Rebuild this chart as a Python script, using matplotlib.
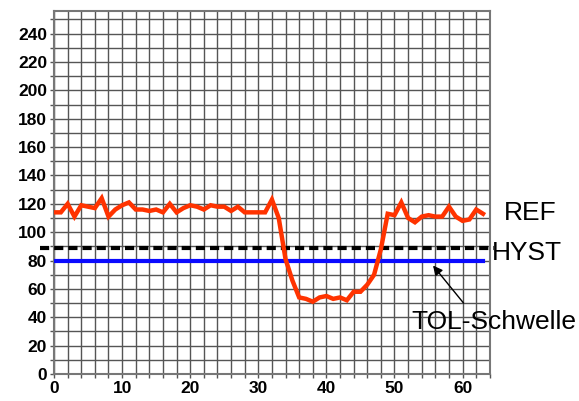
import numpy as np
import matplotlib
matplotlib.use("Agg")
import matplotlib.pyplot as plt

plt.rcParams['font.family'] = ['Liberation Sans', 'DejaVu Sans']

# measured signal, one value per sample
samples = list(range(64))
ref_values = [114, 114, 120, 111, 119, 118, 117, 124, 111, 116,
              119, 121, 116, 116, 115, 116, 114, 120, 114, 117,
              119, 118, 116, 119, 118, 118, 115, 118, 114, 114,
              114, 114, 123, 110, 81, 66, 54, 53, 51, 54,
              55, 53, 54, 52, 58, 58, 63, 70, 88, 113,
              112, 121, 110, 107, 111, 112, 111, 111, 118, 111,
              108, 109, 116, 113]
hyst_level = 89
tol_level = 80

x_ticks = [0, 10, 20, 30, 40, 50, 60]
y_ticks = [0, 20, 40, 60, 80, 100, 120, 140, 160, 180, 200, 220, 240]

fig = plt.figure(figsize=(5.79, 4.01), dpi=100)
ax = fig.add_axes([0.0933, 0.0673, 0.7527, 0.9053])

ax.set_xlim(0, 64)
ax.set_ylim(0, 256)
ax.set_xticks(x_ticks)
ax.set_yticks(y_ticks)
ax.set_xticks(np.arange(0, 65, 2), minor=True)
ax.set_yticks(np.arange(0, 256, 10), minor=True)
ax.grid(which='both', color='#555555', linewidth=1.0)
ax.set_axisbelow(True)
ax.tick_params(which='both', direction='out', length=3, color='#555555', width=1)
ax.tick_params(which='major', labelsize=12.5, pad=2)
for lbl in ax.get_xticklabels() + ax.get_yticklabels():
    lbl.set_fontweight('bold')
for s in ax.spines.values():
    s.set_color('#777777')
    s.set_linewidth(1.5)

ax.plot([-2, 64.6], [hyst_level, hyst_level], color='black', lw=3,
        linestyle=(0, (2.2, 1.2)), clip_on=False, zorder=3)
ax.plot([0, 63], [tol_level, tol_level], color='#0a0aff', lw=3, zorder=4)
ax.plot(samples, ref_values, color='#ff3300', lw=3.2, zorder=5,
        solid_joinstyle='miter')

ax.annotate('', xy=(55.4, 78), xytext=(60.4, 48.5),
            arrowprops=dict(arrowstyle='-|>', color='black', lw=1,
                            mutation_scale=14))

ax.text(0.87, 0.468, 'REF', transform=fig.transFigure, fontsize=19,
        va='center', ha='left')
ax.text(0.849, 0.37, 'HYST', transform=fig.transFigure, fontsize=19,
        va='center', ha='left')
ax.text(0.711, 0.197, 'TOL-Schwelle', transform=fig.transFigure,
        fontsize=19, va='center', ha='left')

fig.savefig('out.png', dpi=100)
